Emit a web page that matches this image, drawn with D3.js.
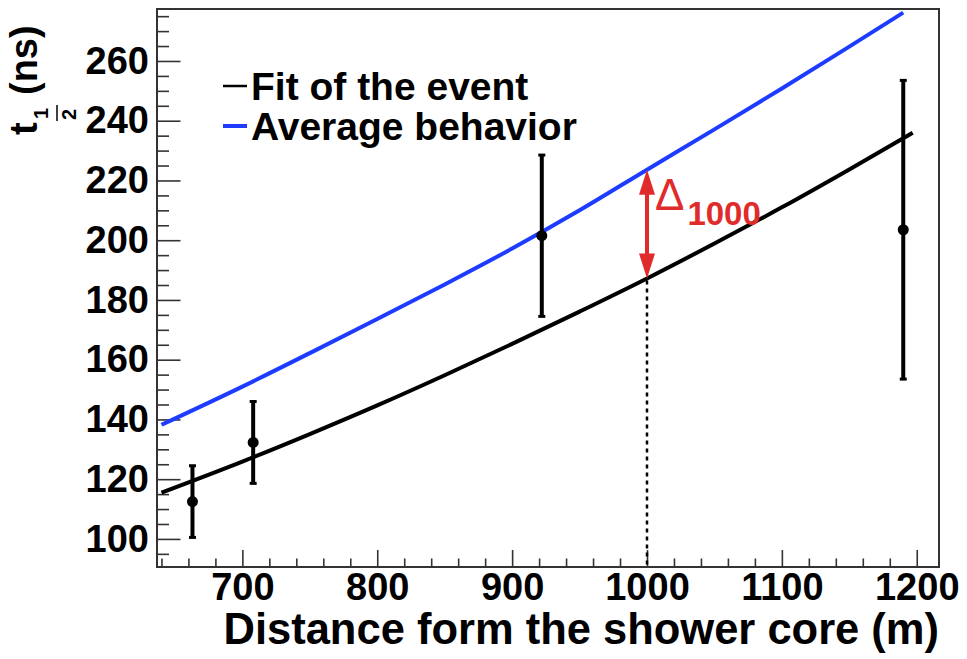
<!DOCTYPE html>
<html><head><meta charset="utf-8">
<script src="https://cdn.jsdelivr.net/npm/d3@7"></script>
<style>
html,body{margin:0;padding:0;background:#fff;}
svg text{font-family:"Liberation Sans",Arial,Helvetica,sans-serif;}
</style></head>
<body>
<svg id="c" width="967" height="659"></svg>
<script>
// ---- data ----
const xMajorTicks = [700, 800, 900, 1000, 1100, 1200];
const yMajorTicks = [100, 120, 140, 160, 180, 200, 220, 240, 260];
const pointX   = [663, 708, 922, 1190];
const pointT   = [112.5, 132.3, 201.5, 203.5];
const pointErr = [12.0, 13.7, 27.0, 50.0];
const fitX = [640, 700, 750, 800, 850, 900, 950, 1000, 1050, 1100, 1150, 1197];
const fitT = [115.5, 125.9, 135.1, 144.7, 154.8, 165.3, 176.1, 187.2, 198.9, 211.0, 223.7, 236.0];
const avgX = [640, 700, 750, 800, 850, 900, 950, 1000, 1050, 1100, 1150, 1190];
const avgT = [138.2, 151.0, 162.2, 173.6, 185.2, 197.2, 210.0, 223.6, 237.1, 250.8, 264.8, 276.2];
const deltaAt = 1000;
const legendLabels = ["Fit of the event", "Average behavior"];
const xTitle = "Distance form the shower core (m)";

// ---- layout ----
const L = 157, R = 939, T = 9, B = 567;
const svg = d3.select("#c");
const x = d3.scaleLinear().domain([636.7, 1216.5]).range([L, R]);
const y = d3.scaleLinear().domain([90.6, 277.4]).range([B, T]);
const BLUE = "#1e3cff", RED = "#e02b2b", FONT = "'Liberation Sans',Arial,sans-serif";

// minor ticks
const xMinor = d3.range(640, 1216, 20).filter(v => !xMajorTicks.includes(v));
const yMinor = d3.range(95, 277.4, 5).filter(v => !yMajorTicks.includes(v));

const gx = svg.append("g").attr("transform", `translate(0,${B})`);
gx.call(d3.axisBottom(x).tickValues(xMajorTicks).tickSizeInner(-17).tickSizeOuter(0).tickPadding(6).tickFormat(d3.format("d")));
const gxm = svg.append("g").attr("transform", `translate(0,${B})`);
gxm.call(d3.axisBottom(x).tickValues(xMinor).tickSizeInner(-8.5).tickSizeOuter(0).tickFormat(""));
const gy = svg.append("g").attr("transform", `translate(${L},0)`);
gy.call(d3.axisLeft(y).tickValues(yMajorTicks).tickSizeInner(-23.5).tickSizeOuter(0).tickPadding(8).tickFormat(d3.format("d")));
const gym = svg.append("g").attr("transform", `translate(${L},0)`);
gym.call(d3.axisLeft(y).tickValues(yMinor).tickSizeInner(-12).tickSizeOuter(0).tickFormat(""));
[gx, gxm, gy, gym].forEach(g => {
  g.select(".domain").remove();
  g.selectAll(".tick line").attr("stroke", "#333").attr("stroke-width", 1.6);
  g.selectAll(".tick text").attr("fill", "#000").style("font-family", FONT)
   .style("font-weight", "bold").style("font-size", "38px");
});

// frame
svg.append("rect").attr("x", L).attr("y", T).attr("width", R - L).attr("height", B - T)
  .attr("fill", "none").attr("stroke", "#333").attr("stroke-width", 2);

// curves
const line = d3.line().x(d => x(d[0])).y(d => y(d[1])).curve(d3.curveMonotoneX);
svg.append("path").datum(avgX.map((v, i) => [v, avgT[i]])).attr("d", line)
  .attr("fill", "none").attr("stroke", BLUE).attr("stroke-width", 4);
svg.append("path").datum(fitX.map((v, i) => [v, fitT[i]])).attr("d", line)
  .attr("fill", "none").attr("stroke", "#000").attr("stroke-width", 4);

// data points with error bars
const pts = pointX.map((v, i) => ({x: v, t: pointT[i], e: pointErr[i]}));
const pg = svg.append("g");
pg.selectAll("line.eb").data(pts).join("line").attr("class", "eb")
  .attr("x1", d => x(d.x)).attr("x2", d => x(d.x))
  .attr("y1", d => y(d.t + d.e)).attr("y2", d => y(d.t - d.e))
  .attr("stroke", "#000").attr("stroke-width", 4);
pg.selectAll("line.capt").data(pts).join("line").attr("class", "capt")
  .attr("x1", d => x(d.x) - 3.5).attr("x2", d => x(d.x) + 3.5)
  .attr("y1", d => y(d.t + d.e)).attr("y2", d => y(d.t + d.e))
  .attr("stroke", "#000").attr("stroke-width", 3);
pg.selectAll("line.capb").data(pts).join("line").attr("class", "capb")
  .attr("x1", d => x(d.x) - 3.5).attr("x2", d => x(d.x) + 3.5)
  .attr("y1", d => y(d.t - d.e)).attr("y2", d => y(d.t - d.e))
  .attr("stroke", "#000").attr("stroke-width", 3);
pg.selectAll("circle").data(pts).join("circle")
  .attr("cx", d => x(d.x)).attr("cy", d => y(d.t)).attr("r", 5.5).attr("fill", "#000");

// delta annotation
const fitAt = fitT[fitX.indexOf(deltaAt)], avgAt = avgT[avgX.indexOf(deltaAt)];
const xd = x(deltaAt);
svg.append("line").attr("x1", xd).attr("x2", xd).attr("y1", y(fitAt) + 2).attr("y2", B)
  .attr("stroke", "#000").attr("stroke-width", 2.5).attr("stroke-dasharray", "4,4");
const ya = y(avgAt), yb = y(fitAt);
const ah = 25, aw = 8;
svg.append("line").attr("x1", xd).attr("x2", xd).attr("y1", ya + ah - 2).attr("y2", yb - ah + 2)
  .attr("stroke", RED).attr("stroke-width", 4);
svg.append("path").attr("d", `M${xd},${ya} L${xd - aw},${ya + ah} L${xd + aw},${ya + ah} Z`).attr("fill", RED);
svg.append("path").attr("d", `M${xd},${yb} L${xd - aw},${yb - ah} L${xd + aw},${yb - ah} Z`).attr("fill", RED);
const dl = svg.append("text").attr("x", xd + 8).attr("y", ya + 40).attr("fill", RED).style("font-family", FONT);
dl.append("tspan").text("Δ").style("font-size", "44px");
dl.append("tspan").text(String(deltaAt)).attr("dy", 15).attr("dx", 3).style("font-size", "33px").style("font-weight", "bold");

// legend
const legColors = ["#000", BLUE], legWidths = [2.5, 4];
legendLabels.forEach((lab, i) => {
  const by = 100 + i * 40;
  svg.append("line").attr("x1", 223).attr("x2", 247).attr("y1", by - 14).attr("y2", by - 14)
    .attr("stroke", legColors[i]).attr("stroke-width", legWidths[i]);
  svg.append("text").attr("x", 251).attr("y", by).text(lab).attr("fill", "#000")
    .style("font-family", FONT).style("font-weight", "bold").style("font-size", "39px");
});

// x title
svg.append("text").attr("x", R).attr("y", 644).attr("text-anchor", "end").text(xTitle)
  .style("font-family", FONT).style("font-weight", "bold").style("font-size", "43.5px");

// y title: t_{1/2} (ns)
const yt = svg.append("g").attr("transform", "translate(48,135) rotate(-90)")
  .style("font-family", FONT).style("font-weight", "bold");
yt.append("text").attr("x", 0).attr("y", -11).text("t").style("font-size", "38px");
yt.append("text").attr("x", 16).attr("y", 0).text("1").style("font-size", "20px");
yt.append("line").attr("x1", 14).attr("x2", 30).attr("y1", 9).attr("y2", 9).attr("stroke", "#000").attr("stroke-width", 1.5);
yt.append("text").attr("x", 15).attr("y", 28).text("2").style("font-size", "20px");
yt.append("text").attr("x", 40).attr("y", -11).text("(ns)").style("font-size", "38px");
</script>
</body></html>
